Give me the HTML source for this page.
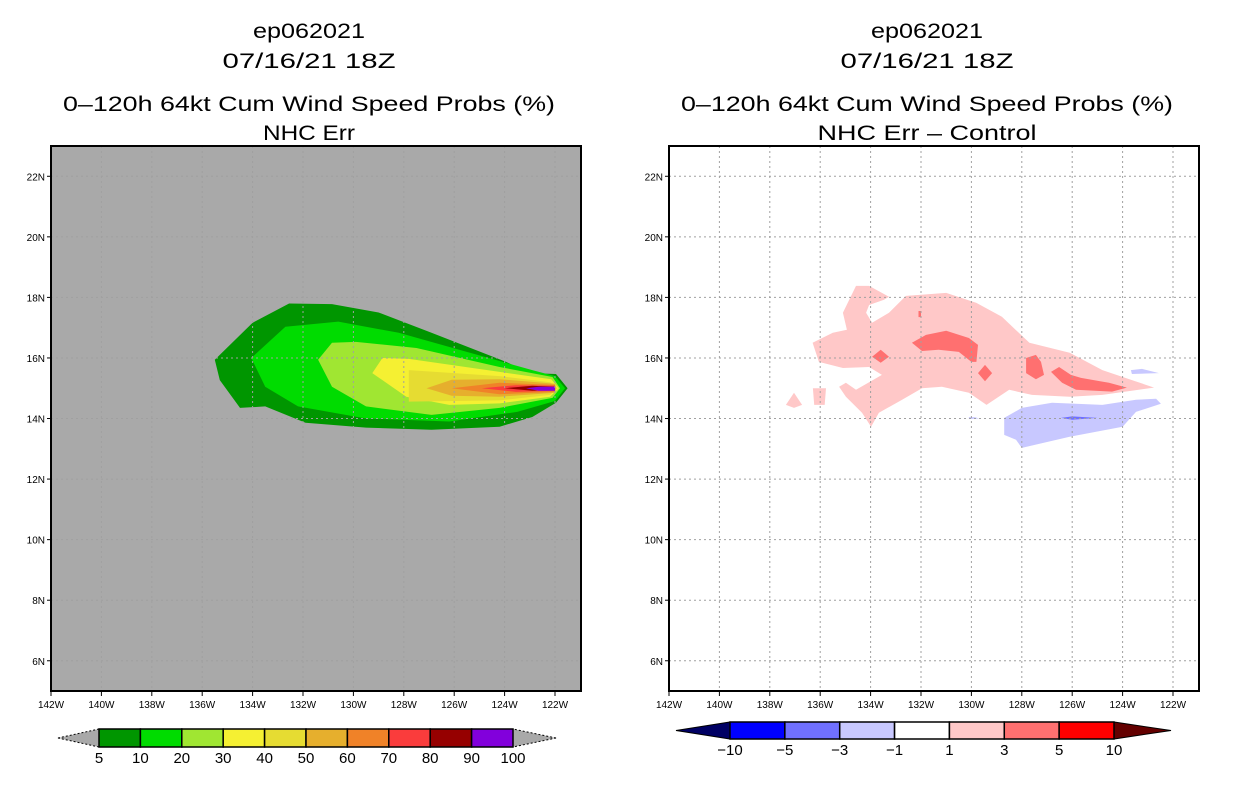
<!DOCTYPE html>
<html><head><meta charset="utf-8">
<style>
html,body{margin:0;padding:0;background:#fff;}
svg{display:block;font-family:"Liberation Sans",sans-serif;}
</style></head>
<body>
<svg id="chart" width="1236" height="800" viewBox="0 0 1236 800">
  <g id="left"></g>
  <g id="right"></g>
</svg>
<script>
// ----- data -----
const lonTicks = [142,140,138,136,134,132,130,128,126,124,122];
const latTicks = [22,20,18,16,14,12,10,8,6];
const leftTitles = ["ep062021","07/16/21 18Z","0\u2013120h 64kt Cum Wind Speed Probs (%)","NHC Err"];
const rightTitles = ["ep062021","07/16/21 18Z","0\u2013120h 64kt Cum Wind Speed Probs (%)","NHC Err \u2013 Control"];
const probLevels = ["5","10","20","30","40","50","60","70","80","90","100"];
const probColors = ["#009600","#00dc00","#a0e632","#f5f032","#e6dc32","#e6af2d","#f08228","#fa3c3c","#960000","#8200dc"];
const diffLevels = ["\u221210","\u22125","\u22123","\u22121","1","3","5","10"];
const diffColors = ["#0000ff","#7070ff","#c8c8ff","#ffffff","#ffc8c8","#ff7070","#ff0000"];
const diffEnds = ["#000064","#640000"];
// probability contours (lonW, lat)
const p5 = [[135.5,15.94],[134.0,17.16],[132.55,17.8],[130.85,17.78],[129.0,17.5],[126.9,16.83],[123.94,15.87],[123.0,15.5],[121.96,15.47],[121.5,15.0],[121.96,14.52],[122.9,14.05],[124.2,13.73],[126.9,13.63],[129.5,13.7],[131.9,13.86],[133.5,14.4],[134.5,14.35],[135.3,15.27]];
const p10 = [[134.05,16.0],[132.7,17.03],[130.6,17.2],[128.2,16.83],[125.5,16.2],[122.9,15.6],[122.0,15.4],[121.6,15.0],[122.0,14.58],[123.5,14.22],[126.2,13.9],[129.5,14.0],[132.2,14.4],[133.5,15.05]];
const p20 = [[131.4,15.94],[130.85,16.5],[129.9,16.53],[127.5,16.33],[124.2,15.7],[122.1,15.37],[121.8,15.0],[122.1,14.68],[124.2,14.35],[126.9,14.12],[129.5,14.4],[130.85,15.05]];
const p30 = [[129.25,15.5],[128.85,16.0],[127.8,15.97],[124.2,15.54],[122.15,15.3],[121.85,15.0],[122.2,14.72],[124.2,14.5],[126.2,14.45],[127.9,14.72]];
const p40 = [[127.8,15.6],[124.2,15.4],[122.2,15.2],[121.9,15.0],[122.2,14.78],[124.2,14.6],[127.8,14.56]];
const p50 = [[127.1,15.0],[126.1,15.28],[124.2,15.3],[122.0,15.15],[121.95,15.0],[122.0,14.85],[124.2,14.72],[126.1,14.75]];
const p60 = [[126.1,15.0],[124.2,15.18],[122.0,15.11],[122.0,14.88],[124.2,14.8]];
const p70 = [[124.9,15.0],[123.55,15.1],[122.0,15.08],[122.0,14.92],[123.55,14.88]];
const p80 = [[124.0,15.0],[122.9,15.08],[122.0,15.05],[122.0,14.95],[122.9,14.92]];
const p90 = [[123.15,15.0],[122.65,15.05],[122.0,15.05],[122.0,14.92],[122.65,14.92]];
// difference contours
const pinkMain = [[134.58,18.38],[134.06,18.38],[133.27,18.02],[133.47,17.92],[134.06,17.75],[134.18,17.49],[133.94,17.16],[133.27,17.49],[132.6,18.05],[131.0,18.15],[129.8,17.82],[128.79,17.36],[127.7,16.5],[126.1,16.17],[124.8,15.6],[122.75,15.02],[124.8,14.78],[126.1,14.72],[127.6,14.78],[128.5,14.95],[129.4,14.45],[130.1,14.85],[131.17,15.05],[131.96,15.0],[132.75,14.62],[133.67,14.19],[133.98,13.73],[134.34,14.19],[134.98,14.72],[135.25,15.05],[134.98,15.18],[134.58,14.95],[133.55,15.44],[134.06,15.7],[135.1,15.67],[136.05,15.87],[136.3,16.5],[135.5,16.83],[134.94,16.93],[135.1,17.49]];
const pinkTri = [[137.04,14.85],[136.72,14.45],[137.04,14.35],[137.36,14.45]];
const pinkRect = [[136.29,15.0],[135.77,15.0],[135.82,14.45],[136.24,14.45]];
const redA = [[132.36,16.5],[131.8,16.76],[131.0,16.9],[130.1,16.66],[129.74,16.43],[129.8,15.87],[130.0,15.87],[130.5,16.2],[131.3,16.27],[131.96,16.23]];
const redB = [[133.94,16.04],[133.6,16.27],[133.27,16.04],[133.6,15.84]];
const redC = [[129.74,15.5],[129.46,15.77],[129.18,15.5],[129.46,15.23]];
const redD = [[127.83,16.0],[127.44,16.1],[127.24,15.87],[127.12,15.44],[127.44,15.3],[127.83,15.5]];
const redE = [[126.84,15.54],[126.52,15.7],[126.05,15.44],[125.65,15.34],[124.54,15.18],[123.83,15.02],[124.42,14.89],[125.85,14.95],[126.4,15.18]];
const redDot = [[132.1,17.55],[132.0,17.55],[132.0,17.35],[132.1,17.35]];
const blueMain = [[128.7,14.02],[128.0,14.35],[126.8,14.52],[124.8,14.45],[123.47,14.62],[122.67,14.65],[122.48,14.49],[123.47,14.22],[124.0,13.73],[126.1,13.4],[128.0,13.03],[128.23,13.3],[128.7,13.46]];
const blueSmall = [[123.67,15.6],[123.23,15.64],[122.56,15.5],[123.63,15.47]];
const blueTiny = [[130.1,14.05],[129.85,14.04],[129.7,14.0],[130.1,13.98]];
const blueDark = [[126.44,14.02],[126.0,14.07],[125.0,14.02],[126.0,13.96]];

const leftTitleWidths = [112,173,492,92];
const rightTitleWidths = [112,173,492,219];

const NS="http://www.w3.org/2000/svg";
function mk(tag, attrs, parent){const e=document.createElementNS(NS,tag);for(const k in attrs)e.setAttribute(k,attrs[k]);parent.appendChild(e);return e;}
const PW=530, PH=545, PY=146;
function axes(x0){
  return {X:lon=>x0+(142-lon)*25.2, Y:lat=>PY+(23-lat)*30.28};
}
function poly(g, ax, pts, fill, name){
  const p=mk('polygon',{points:pts.map(q=>ax.X(q[0]).toFixed(1)+','+ax.Y(q[1]).toFixed(1)).join(' '),fill:fill},g);
  
  
}
function panel(g, x0, cx, bg, titles, widths, gridColor, contours){
  const ax=axes(x0);
  titles.forEach((t,i)=>{
    const tx=mk('text',{x:cx,y:[38,68,111,140][i],'text-anchor':'middle','font-size':21,fill:'#000',textLength:widths[i],lengthAdjust:'spacingAndGlyphs'},g);
    tx.textContent=t;
    
    
  });
  const r=mk('rect',{x:x0,y:PY,width:PW,height:PH,fill:bg},g);
  
  
  contours.forEach(c=>poly(g,ax,c[0],c[1],c[2]));
  const grid=mk('g',{stroke:gridColor,'stroke-width':1,'stroke-dasharray':'2,3'},g);
  
  
  lonTicks.forEach(l=>{ if(l<142) mk('line',{x1:ax.X(l),x2:ax.X(l),y1:PY,y2:PY+PH},grid); });
  latTicks.forEach(l=>{ mk('line',{x1:x0,x2:x0+PW,y1:ax.Y(l),y2:ax.Y(l)},grid); });
  const fr=mk('rect',{x:x0,y:PY,width:PW,height:PH,fill:'none',stroke:'#000','stroke-width':2},g);
  
  
  lonTicks.forEach(l=>{
    mk('line',{x1:ax.X(l),x2:ax.X(l),y1:PY+PH,y2:PY+PH+5,stroke:'#000'},g);
    const t=mk('text',{x:ax.X(l),y:PY+PH+17,'text-anchor':'middle','font-size':10,fill:'#000'},g);
    t.textContent=l+'W';
    
    
  });
  latTicks.forEach(l=>{
    mk('line',{x1:x0-4,x2:x0,y1:ax.Y(l),y2:ax.Y(l),stroke:'#000'},g);
    const t=mk('text',{x:x0-6,y:ax.Y(l)+4,'text-anchor':'end','font-size':10,fill:'#000'},g);
    t.textContent=l+'N';
    
    
  });
}
function colorbar(g, bx0, bx1, tipL, tipR, y0, y1, colors, ends, labels, labelY){
  const n=colors.length, w=(bx1-bx0)/n, ym=(y0+y1)/2;
  const tl=mk('polygon',{points:`${tipL},${ym} ${bx0},${y0} ${bx0},${y1}`,fill:ends[0],stroke:'#000','stroke-dasharray':ends[0]=='#a9a9a9'?'2,2':'none'},g);
  
  
  const tr=mk('polygon',{points:`${tipR},${ym} ${bx1},${y0} ${bx1},${y1}`,fill:ends[1],stroke:'#000','stroke-dasharray':ends[1]=='#a9a9a9'?'2,2':'none'},g);
  
  
  colors.forEach((c,i)=>{
    const r=mk('rect',{x:bx0+i*w,y:y0,width:w,height:y1-y0,fill:c,stroke:'#000','stroke-width':1.5},g);
    
    
  });
  labels.forEach((s,i)=>{
    const off=labels.length===n+1?0:1;
    const t=mk('text',{x:bx0+(i+off)*w,y:labelY,'text-anchor':'middle','font-size':15,fill:'#000'},g);
    t.textContent=s;
    
    
  });
}
const L=document.getElementById('left'), R=document.getElementById('right');
panel(L,51,309,'#a9a9a9',leftTitles,leftTitleWidths,'#a0a0a0',[
 [p5,probColors[0],'prob-5'],[p10,probColors[1],'prob-10'],[p20,probColors[2],'prob-20'],[p30,probColors[3],'prob-30'],
 [p40,probColors[4],'prob-40'],[p50,probColors[5],'prob-50'],[p60,probColors[6],'prob-60'],[p70,probColors[7],'prob-70'],
 [p80,probColors[8],'prob-80'],[p90,probColors[9],'prob-90']]);
panel(R,669,927,'#ffffff',rightTitles,rightTitleWidths,'#a0a0a0',[
 [pinkMain,diffColors[4],'diff-pink-main'],[pinkTri,diffColors[4],'diff-pink-tri'],[pinkRect,diffColors[4],'diff-pink-rect'],
 [redA,diffColors[5],'diff-red-a'],[redB,diffColors[5],'diff-red-b'],[redC,diffColors[5],'diff-red-c'],[redD,diffColors[5],'diff-red-d'],[redE,diffColors[5],'diff-red-e'],[redDot,diffColors[5],'diff-red-dot'],
 [blueMain,diffColors[2],'diff-blue-main'],[blueSmall,diffColors[2],'diff-blue-small'],[blueTiny,diffColors[2],'diff-blue-tiny'],[blueDark,diffColors[1],'diff-blue-dark']]);
colorbar(L,99,513,58,556,729,747,probColors,['#a9a9a9','#a9a9a9'],probLevels,763);
colorbar(R,730,1114,676,1171,722,739,diffColors,diffEnds,diffLevels,755);
</script>
</body></html>
